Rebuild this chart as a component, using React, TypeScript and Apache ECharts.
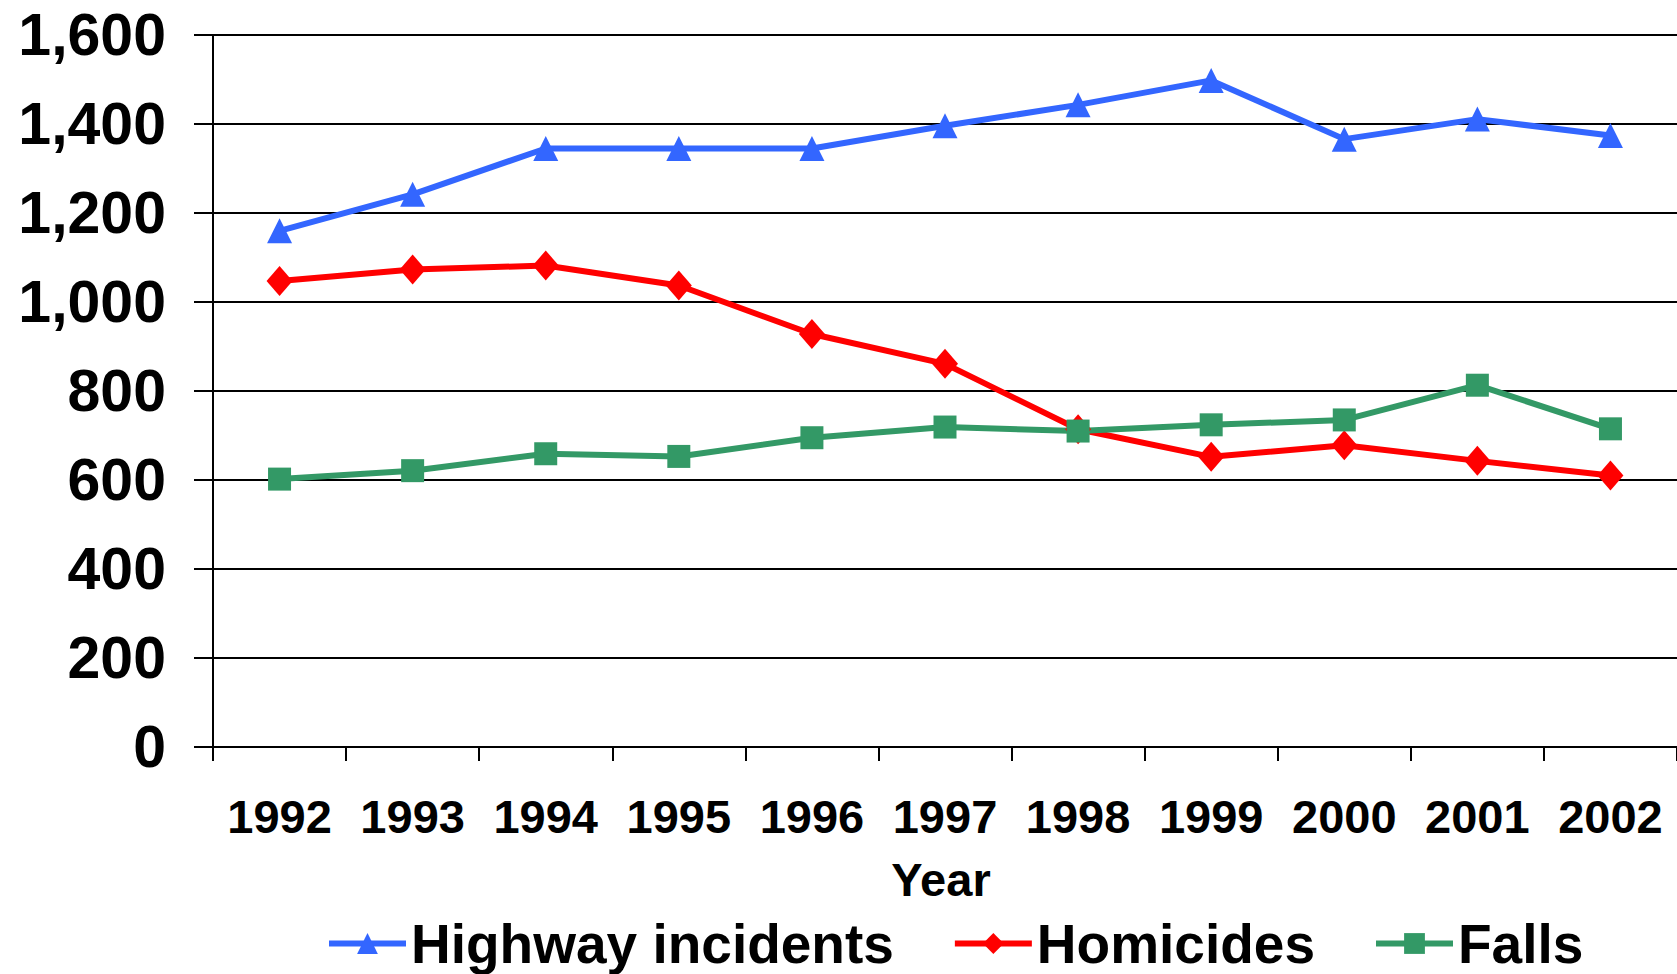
import React, { useEffect, useRef } from "react";
import * as echarts from "echarts";

const years = ["1992", "1993", "1994", "1995", "1996", "1997", "1998", "1999", "2000", "2001", "2002"];
const highway = [1160, 1242, 1345, 1345, 1345, 1396, 1443, 1498, 1366, 1411, 1374];
const homicides = [1047, 1073, 1082, 1037, 928, 861, 714, 652, 678, 643, 610];
const falls = [602, 621, 659, 653, 695, 719, 710, 724, 735, 813, 715];

const FONT = "'Liberation Sans', Arial, Helvetica, sans-serif";

export default function App() {
  const ref = useRef<HTMLDivElement>(null);
  useEffect(() => {
    if (!ref.current) return;
    const chart = echarts.init(ref.current, null, { renderer: "svg" });
    chart.setOption({
      animation: false,
      backgroundColor: "#ffffff",
      textStyle: { fontFamily: FONT },
      grid: { left: 213, top: 35, bottom: 227, right: -6, containLabel: false },
      legend: {
        left: 321,
        top: 911,
        itemWidth: 77,
        itemHeight: 26,
        itemGap: 58,
        lineStyle: { width: 6 },
        textStyle: { fontFamily: FONT, fontWeight: "bold", fontSize: 55, lineHeight: 54, color: "#000" },
        data: ["Highway incidents", "Homicides", "Falls"],
      },
      xAxis: {
        type: "category",
        data: years,
        boundaryGap: true,
        name: "Year",
        nameLocation: "middle",
        nameGap: 109,
        nameMoveOverlap: false,
        nameTextStyle: { fontFamily: FONT, fontWeight: "bold", fontSize: 47, color: "#000", padding: [0, 8, 0, 0] },
        axisLine: { lineStyle: { color: "#000", width: 2 } },
        axisTick: { show: true, length: 14, inside: false, alignWithLabel: false, interval: 0, lineStyle: { color: "#000", width: 2 } },
        axisLabel: { interval: 0, hideOverlap: false, margin: 46, fontFamily: FONT, fontWeight: "bold", fontSize: 47, color: "#000" },
        splitLine: { show: false },
      },
      yAxis: {
        type: "value",
        min: 0,
        max: 1600,
        interval: 200,
        axisLine: { show: true, lineStyle: { color: "#000", width: 2 } },
        axisTick: { show: true, length: 19, inside: false, lineStyle: { color: "#000", width: 2 } },
        axisLabel: {
          margin: 47,
          fontFamily: FONT,
          fontWeight: "bold",
          fontSize: 59,
          color: "#000",
          formatter: (v: number) => v.toLocaleString("en-US"),
        },
        splitLine: { show: true, lineStyle: { color: "#000", width: 2 } },
      },
      series: [
        {
          name: "Highway incidents",
          type: "line",
          data: highway,
          symbol: "triangle",
          symbolSize: [25, 25],
          lineStyle: { color: "#3366FF", width: 6 },
          itemStyle: { color: "#3366FF" },
        },
        {
          name: "Homicides",
          type: "line",
          data: homicides,
          symbol: "diamond",
          symbolSize: [26, 30],
          lineStyle: { color: "#FF0000", width: 6 },
          itemStyle: { color: "#FF0000" },
        },
        {
          name: "Falls",
          type: "line",
          data: falls,
          symbol: "rect",
          symbolSize: [23, 23],
          lineStyle: { color: "#339966", width: 6 },
          itemStyle: { color: "#339966" },
        },
      ],
    });
    return () => chart.dispose();
  }, []);
  return (
    <div
      ref={ref}
      style={{ position: "fixed", left: 0, top: 0, width: 1677, height: 974, background: "#fff" }}
    />
  );
}
